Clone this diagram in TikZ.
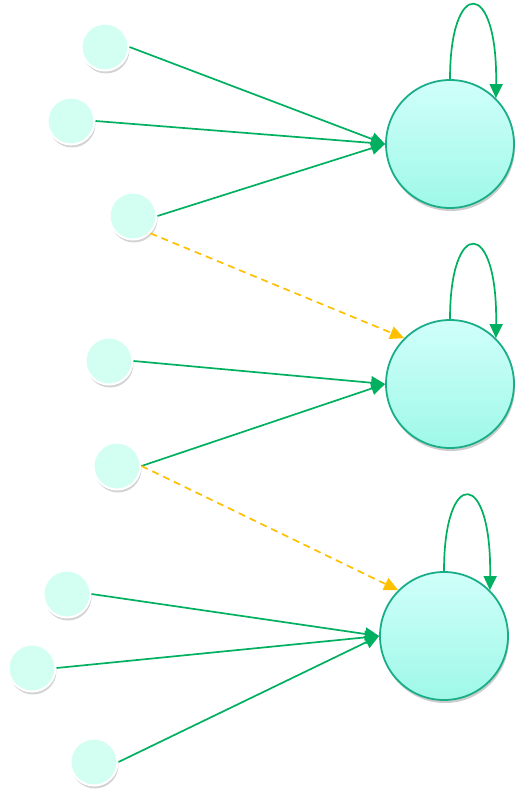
\documentclass[tikz,border=0pt]{standalone}
\usetikzlibrary{arrows.meta,shadows}
\definecolor{edgegreen}{HTML}{00B060}
\definecolor{dashyellow}{HTML}{FFC000}
\definecolor{bigtop}{HTML}{D0FFFA}
\definecolor{bigmid}{HTML}{A4FFF0}
\definecolor{bigbot}{HTML}{9EF8E8}
\definecolor{bigrim}{HTML}{1AAE88}
\definecolor{smallfill}{HTML}{D2FFF2}
\tikzset{
  bignode/.style={circle, minimum size=128pt, inner sep=0pt, draw=bigrim, line width=1.8pt,
    top color=bigtop, middle color=bigmid, bottom color=bigbot,
    drop shadow={shadow xshift=1pt, shadow yshift=-3pt, opacity=0.4}},
  smallnode/.style={circle, minimum size=47pt, inner sep=0pt, draw=white, line width=2pt,
    fill=smallfill,
    drop shadow={shadow xshift=1pt, shadow yshift=-3pt, opacity=0.35}},
  feed/.style={draw=edgegreen, line width=1.7pt, -{Triangle[length=14pt,width=13pt]}},
  carry/.style={draw=dashyellow, line width=1.7pt, dash pattern=on 7pt off 5pt,
    -{Triangle[length=14pt,width=13pt]}},
}
\begin{document}
\begin{tikzpicture}[x=1pt,y=-1pt]
\useasboundingbox (0,0) rectangle (518,791);
% big nodes
\node[bignode] (B1) at (450,144) {};
\node[bignode] (B2) at (450,384) {};
\node[bignode] (B3) at (444,636) {};
% small nodes
\node[smallnode] (s1) at (105,47) {};
\node[smallnode] (s2) at (71,121) {};
\node[smallnode] (s3) at (133,216) {};
\node[smallnode] (s4) at (109,361) {};
\node[smallnode] (s5) at (117,466) {};
\node[smallnode] (s6) at (67,594) {};
\node[smallnode] (s7) at (32,668) {};
\node[smallnode] (s8) at (94,762) {};
% feeding edges
\draw[feed] (s1.east) -- (B1.west);
\draw[feed] (s2.east) -- (B1.west);
\draw[feed] (s3.east) -- (B1.west);
\draw[feed] (s4.east) -- (B2.west);
\draw[feed] (s5.east) -- (B2.west);
\draw[feed] (s6.east) -- (B3.west);
\draw[feed] (s7.east) -- (B3.west);
\draw[feed] (s8.east) -- (B3.west);
% dashed carry edges
\draw[carry] (s3.-45) -- (B2.135);
\draw[carry] (s5.east) -- (B3.135);
% self loops
\draw[feed] (B1.90) .. controls +(0,-102) and +(2,-120) .. (B1.45);
\draw[feed] (B2.90) .. controls +(0,-102) and +(2,-120) .. (B2.45);
\draw[feed] (B3.90) .. controls +(0,-104) and +(2,-122) .. (B3.45);
\end{tikzpicture}
\end{document}
